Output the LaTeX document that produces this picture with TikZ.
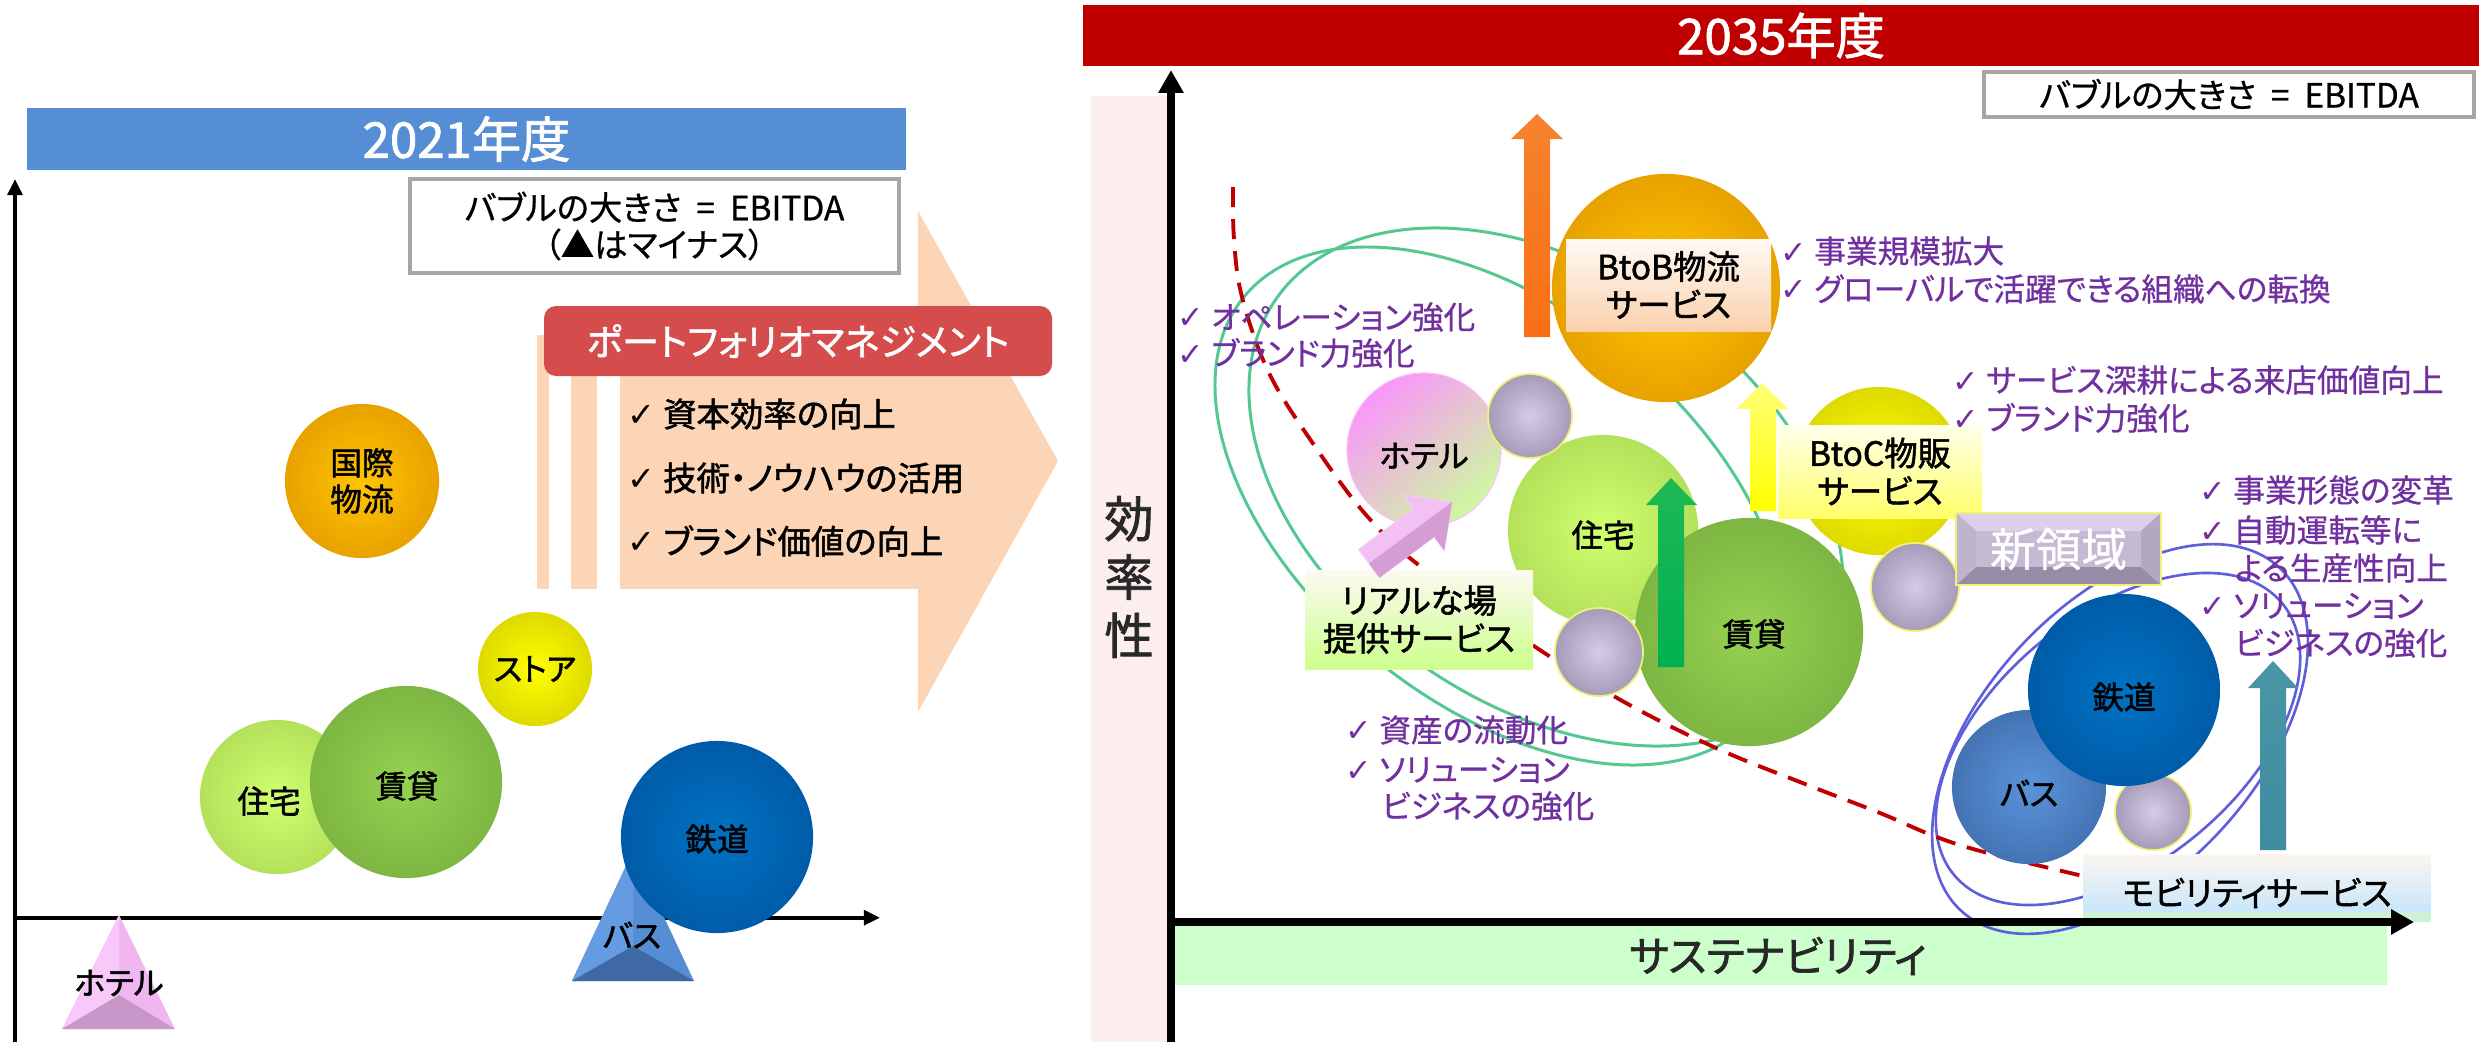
\documentclass[tikz,border=0pt]{standalone}
\usepackage{fontspec}
\setmainfont{Noto Sans CJK JP}[RawFeature={+palt}, FakeBold=0.7]
\newfontfamily\hv{Noto Sans CJK JP}[RawFeature={+palt}, FakeBold=1.6]
\newfontfamily\djv{DejaVu Sans}
\usetikzlibrary{arrows.meta}
\definecolor{hdrblue}{RGB}{85,142,213}
\definecolor{hdrred}{RGB}{192,0,0}
\definecolor{peach}{RGB}{251,213,181}
\definecolor{banred}{RGB}{212,76,76}
\definecolor{boxgray}{RGB}{166,166,166}
\definecolor{pinkb}{RGB}{253,238,238}
\definecolor{greenb}{RGB}{204,255,204}
\definecolor{purT}{RGB}{112,48,160}
\definecolor{gln}{RGB}{85,200,145}
\definecolor{bln}{RGB}{95,95,220}
\definecolor{dred}{RGB}{192,0,0}
\definecolor{txtd}{RGB}{40,40,40}
\definecolor{orgI}{RGB}{255,198,0}
\definecolor{orgO}{RGB}{232,162,0}
\definecolor{yelI}{RGB}{255,255,0}
\definecolor{yelO}{RGB}{222,218,0}
\definecolor{lgI}{RGB}{208,255,110}
\definecolor{lgO}{RGB}{180,225,90}
\definecolor{grI}{RGB}{150,210,82}
\definecolor{grO}{RGB}{125,182,66}
\definecolor{blI}{RGB}{0,114,196}
\definecolor{blO}{RGB}{0,92,168}
\definecolor{bbI}{RGB}{90,148,218}
\definecolor{bbO}{RGB}{68,115,180}
\definecolor{lvI}{RGB}{214,204,230}
\definecolor{lvO}{RGB}{165,155,185}
\definecolor{lvL}{RGB}{240,240,120}
\definecolor{hpk}{RGB}{250,150,250}
\definecolor{hgr}{RGB}{205,250,160}
\definecolor{pkA}{RGB}{248,200,248}
\definecolor{pkB}{RGB}{240,182,240}
\definecolor{pkC}{RGB}{200,150,200}
\definecolor{bsA}{RGB}{100,155,225}
\definecolor{bsB}{RGB}{85,142,213}
\definecolor{bsC}{RGB}{62,105,165}
\definecolor{oaT}{RGB}{247,130,45}
\definecolor{oaM}{RGB}{250,205,170}
\definecolor{oaB}{RGB}{248,112,22}
\definecolor{yaT}{RGB}{255,255,120}
\definecolor{yaM}{RGB}{250,220,195}
\definecolor{yaB}{RGB}{255,255,0}
\definecolor{gaT}{RGB}{30,185,85}
\definecolor{gaM}{RGB}{200,250,205}
\definecolor{gaB}{RGB}{0,176,80}
\definecolor{taT}{RGB}{72,150,165}
\definecolor{taM}{RGB}{250,235,225}
\definecolor{taB}{RGB}{62,140,160}
\definecolor{paL}{RGB}{242,192,242}
\definecolor{paD}{RGB}{212,158,212}
\definecolor{srT}{RGB}{218,208,234}
\definecolor{srL}{RGB}{190,180,206}
\definecolor{srR}{RGB}{178,168,194}
\definecolor{srB}{RGB}{150,140,166}
\definecolor{srC}{RGB}{196,186,212}
\definecolor{bbT}{RGB}{255,250,245}
\definecolor{bbB}{RGB}{250,208,172}
\definecolor{bcT}{RGB}{255,255,235}
\definecolor{bcB}{RGB}{255,255,105}
\definecolor{rlT}{RGB}{252,250,240}
\definecolor{rlB}{RGB}{204,255,140}
\definecolor{mbT}{RGB}{252,246,240}
\definecolor{mbB}{RGB}{200,230,250}
\definecolor{mbG}{RGB}{205,240,215}
\newcommand\ck{{\djv ✓}}
\newcommand\eqs{\hspace{0.45em}=\hspace{0.45em}}
\newcommand\fhdr{\hv\fontsize{14pt}{16pt}\selectfont}
\newcommand\fbub{\hv\fontsize{9pt}{10.4pt}\selectfont}
\newcommand\flab{\hv\fontsize{9.5pt}{10.8pt}\selectfont}
\newcommand\fpur{\fontsize{9pt}{10.8pt}\selectfont}
\newcommand\flist{\hv\fontsize{9.5pt}{11pt}\selectfont}
\newcommand\fban{\hv\fontsize{10.5pt}{12pt}\selectfont}
\newcommand\fleg{\fontsize{9.5pt}{10.5pt}\selectfont}
\newcommand\fbig{\fontsize{13pt}{15pt}\selectfont}
\newcommand\fsus{\hv\fontsize{12pt}{14pt}\selectfont}
\newcommand\fkou{\hv\fontsize{14pt}{16.6pt}\selectfont}
\begin{document}
\begin{tikzpicture}[x=0.01cm, y=-0.01cm,
  bub/.style={circle, inner sep=0pt, minimum size=#1*0.02cm, align=center, font=\fbub},
  ptx/.style={anchor=west, inner sep=0pt, font=\fpur, text=purT},
  lst/.style={anchor=west, inner sep=0pt, font=\flist},
  gell/.style={draw=gln, line width=0.85pt},
  bell/.style={draw=bln, line width=0.75pt},
  labbox/.style={inner sep=0pt, align=center, font=\flab},
  axL/.style={line width=1.1pt, -{Triangle[length=4.6pt,width=4.2pt]}},
  axR/.style={line width=2.3pt, -{Triangle[length=6.5pt,width=6.8pt]}},
]
\useasboundingbox (0,0) rectangle (2479,1042);

% ================= LEFT PANEL =================
\fill[peach] (620,335) rectangle (918,589);
\fill[peach] (537,335) rectangle (549,589);
\fill[peach] (571,335) rectangle (597,589);
\fill[peach] (918,211) -- (1058,461) -- (918,712) -- cycle;

\node[fill=hdrblue, minimum width=879*0.01cm, minimum height=62*0.01cm, inner sep=0pt, text=white, font=\fhdr] (h21) at (466.5,139) {2021年度};

\node[draw=boxgray, line width=1.15pt, fill=white, minimum width=489*0.01cm, minimum height=94*0.01cm, align=center, font=\fleg, inner sep=0pt] (legL) at (654.5,226) {バブルの大きさ\eqs EBITDA\\（▲はマイナス）};

\node[fill=banred, rounded corners=0.12cm, minimum width=508*0.01cm, minimum height=70*0.01cm, inner sep=0pt, text=white, font=\fban] (pm) at (798,341) {ポートフォリオマネジメント};

\node[lst] (c1) at (627,414) {\ck\ 資本効率の向上};
\node[lst] (c2) at (627,478) {\ck\ 技術・ノウハウの活用};
\node[lst] (c3) at (627,541) {\ck\ ブランド価値の向上};

\coordinate (LYb) at (15,1042);
\coordinate (LYt) at (15,179);
\coordinate (LXl) at (15,917.7);
\coordinate (LXr) at (880,917.7);
\draw[axL] (LYb) -- (LYt);
\draw[axL] (LXl) -- (LXr);

% hotel triangle
\fill[pkB] (62,1029) -- (119,915) -- (175,1029) -- cycle;
\fill[pkA] (62,1029) -- (119,915) -- (119,995) -- cycle;
\fill[pkC] (62,1029) -- (119,995) -- (175,1029) -- cycle;
\node[font=\fbub, inner sep=0pt] (tH) at (119,983) {ホテル};

% bubbles
\node[bub=77, inner color=orgI, outer color=orgO] (kk) at (362,481) {国際\\物流};
\node[bub=57, inner color=yelI, outer color=yelO] (st) at (535,669) {ストア};
\node[bub=77, inner color=lgI, outer color=lgO] (jtL) at (277,797) {};
\node[font=\fbub, inner sep=0pt] (jtLt) at (269,801) {住宅};
\node[bub=96, inner color=grI, outer color=grO] (cnL) at (406,782) {};
\node[font=\fbub, inner sep=0pt] (cnLt) at (407,786) {賃貸};

% bus triangle
\fill[bsB] (572,981) -- (633,851) -- (694,981) -- cycle;
\fill[bsA] (572,981) -- (633,851) -- (633,946) -- cycle;
\fill[bsC] (572,981) -- (633,946) -- (694,981) -- cycle;
\node[bub=96, inner color=blI, outer color=blO] (tdL) at (717,837) {};
\node[font=\fbub, inner sep=0pt] (tdLt) at (717,839) {鉄道};
\node[font=\fbub, inner sep=0pt] (bsLt) at (632,935) {バス};

% ================= RIGHT PANEL =================
\node[fill=hdrred, minimum width=1396*0.01cm, minimum height=61*0.01cm, inner sep=0pt, text=white, font=\fhdr] (h35) at (1781,35.5) {2035年度};
\node[draw=boxgray, line width=1.15pt, fill=white, minimum width=490*0.01cm, minimum height=45*0.01cm, inner sep=0pt, font=\fleg] (legR) at (2229,94.5) {バブルの大きさ\eqs EBITDA};

\fill[pinkb] (1091,96) rectangle (1167,1042);
\node[font=\fkou, align=center, text=txtd, inner sep=0pt] (kr) at (1129,577) {効\\率\\性};
\fill[greenb] (1175,926) rectangle (2387,985);
\node[font=\fsus, text=txtd, inner sep=0pt] (sus) at (1778,956) {サステナビリティ};

% green ellipses
\draw[gell, rotate around={-39.2:(1500,506)}] (1500,506) ellipse [x radius=330.6, y radius=197.5];
\draw[gell, rotate around={-34.9:(1546,487)}] (1546,487) ellipse [x radius=329, y radius=217];
% blue ellipses
\draw[bell, rotate around={47.1:(2120,739)}] (2120,739) ellipse [x radius=234, y radius=136];
\draw[bell, rotate around={39.6:(2118,739)}] (2118,739) ellipse [x radius=213, y radius=124];

% red dashed frontier
\draw[dred, line width=1.1pt, dash pattern=on 5.7pt off 3.4pt] plot[smooth, tension=0.6] coordinates {(1233,187) (1234,239) (1242,297) (1269,373) (1314,445) (1367,516) (1425,570) (1546,654) (1626,703) (1716,748) (1805,784) (1880,813) (1934,836) (1984,852) (2083,876)};

% right axes
\coordinate (RYb) at (1171,1042);
\coordinate (RYt) at (1171,70);
\coordinate (RXl) at (1167,922);
\coordinate (RXr) at (2414,922);
\draw[axR] (RYb) -- (RYt);

% bubbles (right)
\node[bub=114, inner color=orgI, outer color=orgO] (btob) at (1666,288) {};
\node[bub=77, top color=hpk, bottom color=hgr, shading angle=40, draw=hpk!60!white, line width=0.3pt] (hot) at (1424,450) {};
\node[font=\fbub, inner sep=0pt] (hott) at (1424,456) {ホテル};
\node[bub=95, inner color=lgI, outer color=lgO] (jt) at (1603,530) {};
\node[font=\fbub, inner sep=0pt] (jtt) at (1603,535) {住宅};
\node[bub=42, inner color=lvI, outer color=lvO, draw=lvL, line width=0.5pt] (pv1) at (1530,416) {};
\node[bub=114, inner color=grI, outer color=grO] (cn) at (1749,632) {};
\node[font=\fbub, inner sep=0pt] (cnt) at (1754,634) {賃貸};
\node[bub=44, inner color=lvI, outer color=lvO, draw=lvL, line width=0.5pt] (pv2) at (1599,652) {};
\node[bub=84, inner color=yelI, outer color=yelO] (btoc) at (1879,471) {};
\node[bub=44, inner color=lvI, outer color=lvO, draw=lvL, line width=0.5pt] (pv3) at (1915,587) {};
\node[bub=77, inner color=bbI, outer color=bbO] (bs) at (2029,787) {};
\node[font=\fbub, inner sep=0pt] (bst) at (2029,793) {バス};
\node[bub=38, inner color=lvI, outer color=lvO, draw=lvL, line width=0.5pt] (pv4) at (2153,812) {};
\node[bub=96, inner color=blI, outer color=blO] (td) at (2124,690) {};
\node[font=\fbub, inner sep=0pt] (tdt) at (2124,697) {鉄道};

% block arrows
\shade[top color=oaT, middle color=oaM, bottom color=oaB] (1537,114) -- (1563,139) -- (1550,139) -- (1550,337) -- (1524,337) -- (1524,139) -- (1511,139) -- cycle;
\shade[top color=yaT, middle color=yaM, bottom color=yaB] (1762,383) -- (1788,409) -- (1776,409) -- (1776,511) -- (1750,511) -- (1750,409) -- (1737,409) -- cycle;
\shade[top color=gaT, middle color=gaM, bottom color=gaB] (1671,478) -- (1697,505) -- (1684,505) -- (1684,667) -- (1658,667) -- (1658,505) -- (1646,505) -- cycle;
\shade[top color=taT, middle color=taM, bottom color=taB] (2273,661) -- (2298,688) -- (2286,688) -- (2286,850) -- (2260,850) -- (2260,688) -- (2248,688) -- cycle;

% label boxes
\node[labbox, minimum width=205*0.01cm, minimum height=92*0.01cm, top color=bbT, bottom color=bbB] (lbb) at (1668.5,285) {BtoB物流\\サービス};
\node[labbox, minimum width=204*0.01cm, minimum height=93*0.01cm, top color=bcT, bottom color=bcB] (lbc) at (1880,471.5) {BtoC物販\\サービス};
\node[labbox, minimum width=228*0.01cm, minimum height=99*0.01cm, top color=rlT, bottom color=rlB] (lrl) at (1419,619.5) {リアルな場\\提供サービス};

% pink arrow
\fill[paL, draw=paL!80!white, line width=0.3pt] (1358.6,549.4) -- (1413.4,508.6) -- (1403.4,494.9) -- (1452,502) -- (1444.2,550.5) -- (1434.2,536.8) -- (1379.4,577.6) -- cycle;
\fill[paD] (1369,563.5) -- (1452,502) -- (1444.2,550.5) -- (1434.2,536.8) -- (1379.4,577.6) -- cycle;

% new domain bevel box
\fill[srC] (1956,513) rectangle (2161,585);
\fill[srT] (1956,513) -- (2161,513) -- (2141,531) -- (1976,531) -- cycle;
\fill[srB] (1956,585) -- (2161,585) -- (2141,567) -- (1976,567) -- cycle;
\fill[srL] (1956,513) -- (1976,531) -- (1976,567) -- (1956,585) -- cycle;
\fill[srR] (2161,513) -- (2141,531) -- (2141,567) -- (2161,585) -- cycle;
\draw[lvL, line width=0.5pt] (1956,513) rectangle (2161,585);
\node[font=\fbig, text=white, inner sep=0pt] (sr) at (2058.5,549) {新領域};

% mobility box
\shade[top color=mbT, bottom color=mbB] (2083,854) rectangle (2431,912);
\fill[mbG] (2083,912) rectangle (2431,922);
\node[font=\flab, inner sep=0pt] (mob) at (2257,893) {モビリティサービス};

\draw[axR] (RXl) -- (RXr);

% purple texts
\node[ptx] (p1) at (1177,317) {\ck\ オペレーション強化};
\node[ptx] (p2) at (1177,353) {\ck\ ブランド力強化};
\node[ptx] (p3) at (1780,251) {\ck\ 事業規模拡大};
\node[ptx] (p4) at (1780,289) {\ck\ グローバルで活躍できる組織への転換};
\node[ptx] (p5) at (1952,380) {\ck\ サービス深耕による来店価値向上};
\node[ptx] (p6) at (1952,418) {\ck\ ブランド力強化};
\node[ptx] (p7) at (2199,490) {\ck\ 事業形態の変革};
\node[ptx] (p8) at (2199,530) {\ck\ 自動運転等に};
\node[ptx] (p9) at (2234,568) {よる生産性向上};
\node[ptx] (p10) at (2199,606) {\ck\ ソリューション};
\node[ptx] (p11) at (2234,643) {ビジネスの強化};
\node[ptx] (p12) at (1345,730) {\ck\ 資産の流動化};
\node[ptx] (p13) at (1345,770) {\ck\ ソリューション};
\node[ptx] (p14) at (1381,806) {ビジネスの強化};
\end{tikzpicture}
\end{document}
